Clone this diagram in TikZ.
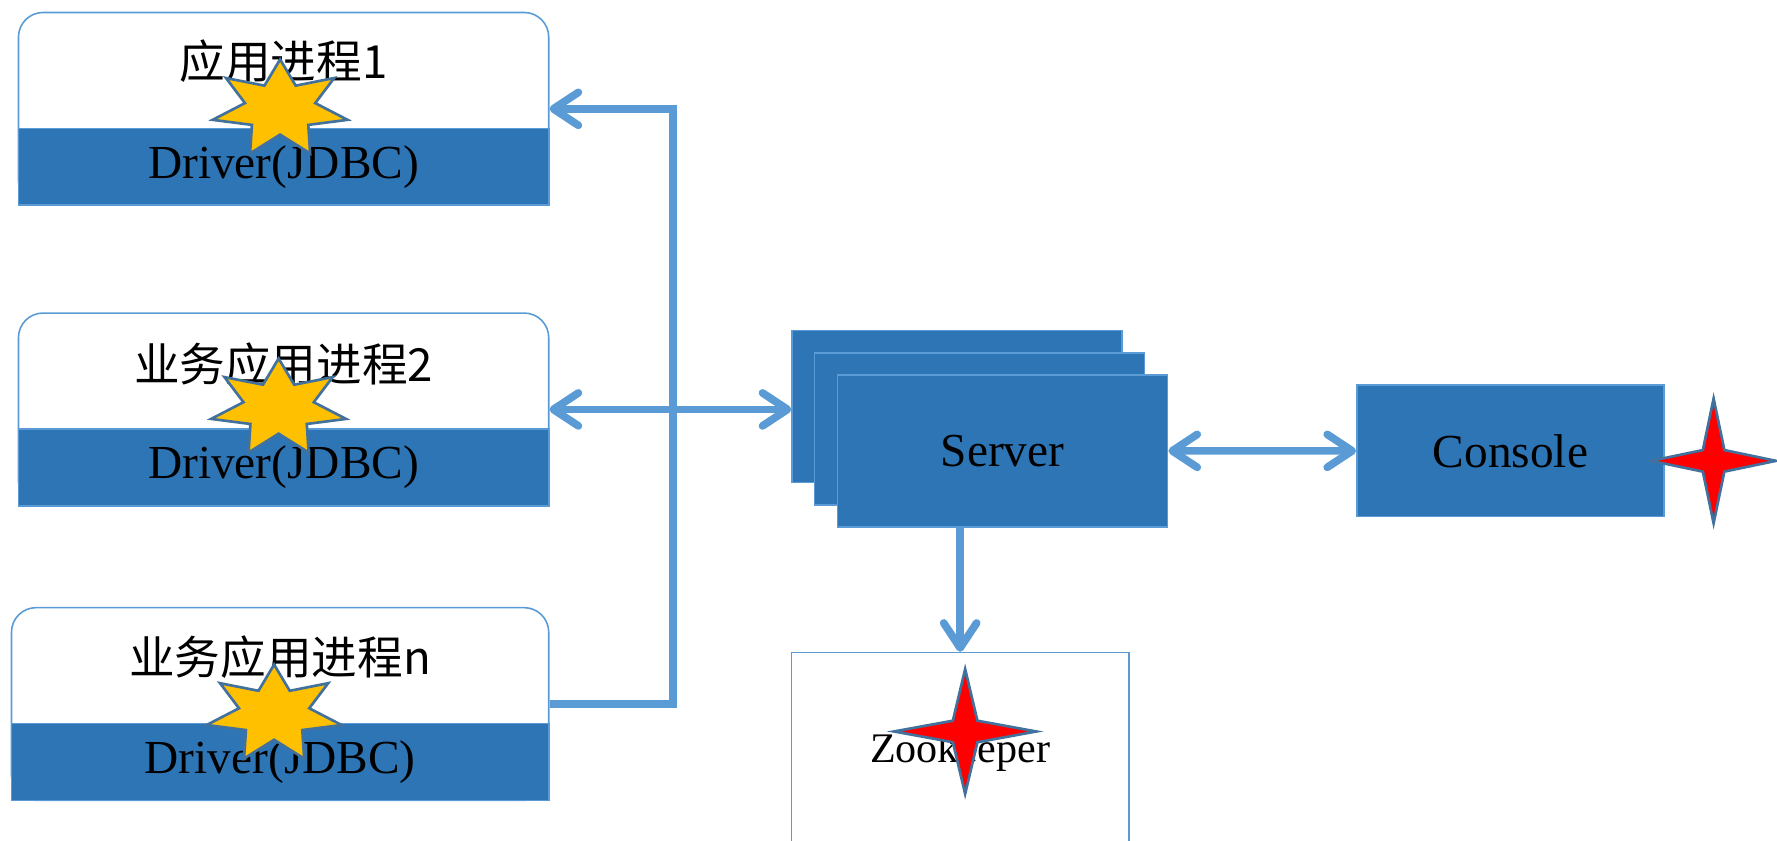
\documentclass[tikz,border=0pt]{standalone}
\usepackage{fontspec}
\setmainfont{Liberation Serif}
\newfontfamily\cjkfont{Noto Sans CJK SC}
\usepackage{tikz}
\usetikzlibrary{shapes.geometric, arrows.meta, positioning, calc}

\definecolor{boxblue}{HTML}{2E75B6}
\definecolor{edgeblue}{HTML}{5B9BD5}
\definecolor{staredge}{HTML}{41719C}
\definecolor{staryellow}{HTML}{FFC000}

\begin{document}
\begin{tikzpicture}[
  %% box styles
  appbox/.style={
    rectangle, rounded corners=14pt,
    minimum width=10.62cm, minimum height=3.86cm,
    draw=edgeblue, line width=0.9pt, fill=white},
  drvband/.style={
    rectangle, inner sep=0pt,
    minimum width=10.62cm, minimum height=1.54cm,
    draw=edgeblue, line width=0.9pt, fill=boxblue,
    font=\fontsize{27}{30}\selectfont},
  apptitle/.style={inner sep=0pt, font=\cjkfont\fontsize{26}{30}\selectfont},
  srvbox/.style={
    rectangle, minimum width=6.61cm, minimum height=3.04cm,
    draw=edgeblue, line width=0.9pt, fill=boxblue,
    font=\fontsize{27}{30}\selectfont},
  conbox/.style={srvbox, minimum width=6.15cm, minimum height=2.63cm},
  zkbox/.style={
    rectangle, minimum width=6.76cm, minimum height=4.0cm,
    draw=edgeblue, line width=0.9pt, fill=white,
    font=\fontsize{24}{28}\selectfont},
  %% stars
  ystar/.style={
    star, star points=7, star point ratio=1.92,
    minimum size=1.98cm, inner sep=0pt,
    draw=staredge, line width=1.5pt, fill=staryellow,
    xscale=1.4},
  rstar/.style={
    star, star points=4, star point ratio=4.1,
    minimum size=2.5cm, inner sep=0pt,
    draw=staredge, line width=1.5pt, fill=red},
  %% connectors
  link/.style={line width=4.4pt, edgeblue,
    >={Straight Barb[round, length=5mm, width=6.6mm]}}
]
\clip (0,0) rectangle (35.59,-16.84);

%% ── process boxes ──────────────────────────────────────────
\node[appbox] (app1) at (5.68,-2.18) {};
\node[drvband, anchor=south] (drv1) at (app1.south) {Driver(JDBC)};
\node[apptitle] (title1) at ($(app1.north)+(0,-1.0)$) {应用进程1};

\node[appbox] (app2) at (5.68,-8.20) {};
\node[drvband, anchor=south] (drv2) at (app2.south) {Driver(JDBC)};
\node[apptitle] (title2) at ($(app2.north)+(0,-1.04)$) {业务应用进程2};

\node[appbox, minimum width=10.76cm] (app3) at (5.61,-14.10) {};
\node[drvband, anchor=south, minimum width=10.76cm] (drv3) at (app3.south) {Driver(JDBC)};
\node[apptitle] (title3) at ($(app3.north)+(0,-1.0)$) {业务应用进程n};

%% ── server stack, console, zookeeper ───────────────────────
\node[srvbox] (srv1) at (19.17,-8.14) {};
\node[srvbox] (srv2) at ($(srv1)+(0.45,-0.45)$) {};
\node[srvbox] (srv3) at ($(srv2)+(0.46,-0.44)$) {Server};

\node[conbox] (con) at (30.25,-9.03) {Console};

\node[zkbox] (zk) at (19.23,-15.07) {Zookeeper};

%% ── connectors ─────────────────────────────────────────────
\coordinate (bus) at (13.48,0);
\draw[link, ->] (app3.east) -- (app3.east -| bus) -- (app1.east -| bus) -- (app1.east);
\draw[link, <->] (app2.east) -- (app2.east -| srv1.west);
\draw[link, <->] (srv3.east) -- (con.west);
\draw[link, ->] (zk.north |- srv3.south) -- (zk.north);

%% ── stars on top ───────────────────────────────────────────
\node[ystar] (star1) at (5.61,-2.18) {};
\node[ystar] (star2) at (5.58,-8.17) {};
\node[ystar] (star3) at (5.49,-14.30) {};
\node[rstar, xscale=1.14] (zkstar) at (19.33,-14.65) {};
\node[rstar] (constar) at (34.32,-9.23) {};

\end{tikzpicture}
\end{document}
